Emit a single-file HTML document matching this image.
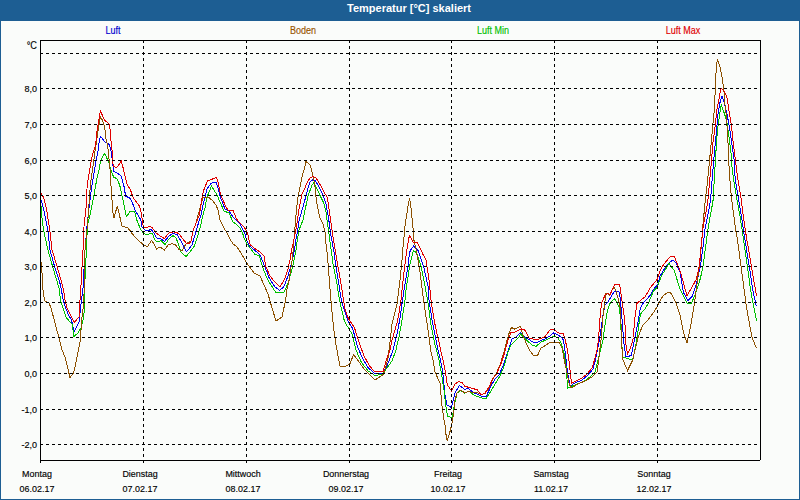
<!DOCTYPE html>
<html><head><meta charset="utf-8"><style>
html,body{margin:0;padding:0;width:800px;height:500px;overflow:hidden;background:#1d5e93;font-family:"Liberation Sans",sans-serif;}
#p{position:absolute;left:1px;top:21px;width:798px;height:478px;background:#fafcfa;}
div{white-space:nowrap;line-height:12px;}
svg{position:absolute;left:0;top:0;}
</style></head><body>
<div id="p"></div>
<svg width="800" height="500" viewBox="0 0 800 500" shape-rendering="crispEdges">
<polyline points="40,197 41,200 42.5,205 43.5,209 44.5,213 45.5,218 46.5,224 47.5,228 50,250 55,268 60.5,285 63,299 65,306 68,314 71.5,320 74,332 76.5,327 79,322 80,313 81.5,300 83,288 85,250 87,226 90,200 92,185 94,173 96,161 98,151.4 98.8,145 99.6,139.4 100.4,136.2 102.4,138.6 104.8,141.8 107.6,143.4 109.6,145 110.8,149.8 112.4,161 113.6,171.4 118.4,173.8 121.2,176.2 122.5,181 124,186.4 125.6,196 128,197.2 130.4,198.4 132.8,204 135.2,210.4 137.6,214.4 140.8,220 142,227 145,230 148,230.5 151,229.5 154,233 156.5,238 161,239 164.5,241.5 169,236 173,233.5 177,234.5 181,241 184,247 186.5,251.5 189,249 192,245 194,238 196.5,230 199,221 201,215 203,205 205,197 207,189 210.5,184 213,182.5 216,182 218,188 220,196 221.5,200 225,209 229,211 233,217 236,220 240,224 243,230 245,234 246.6,240 249.6,246 256.8,252 260.4,255.6 265.2,267.6 269.4,278.4 274.8,286.8 279.6,290.4 283.8,286.8 288,276 291.6,262.8 294.5,250 295.5,242 297.5,231 299.5,218 301,214 306,196 308,188 310,182 312.5,180 315,180.5 318,185 322.8,194.6 326,204.2 328.4,217 330.8,234.6 334,252.2 336,266.7 338.6,282.3 341.2,299.2 344.5,310.8 347.5,319.8 352.8,329 357.6,346.8 362.4,358 368,367.6 374.4,373.2 383,373.2 387,366 392,353 393,350 395,342 397.5,332 400,318 402.5,300 404,290 408,266 409.5,252.5 411,249.5 413.5,246 416,248.5 418,250.5 420,256 424,268 428,286 429,300 430.5,310 432,320 434,330 436.5,342 438,350 440.5,360 442.5,370 443.5,380 445,395 447,405 451.5,407.5 455,393 459.5,385.5 465,389.5 468,388 473,392.5 477,394 481,396 486.5,396 491,386 495,379 499,375 503.5,365 508,351 512,339 516,337 520.5,332.5 523.5,336 528,339 533,342 537,342.5 541,340.5 545,339 550,336 553.5,333 557,334.5 561,337 563.5,340 565.5,355 567.5,372 570,386 575,383 582,380 588,375 593,369 595.5,360 597.5,350 599.5,340 603,315 605,305 608,302 611,297 614,292 616,291 619,291.5 620.5,300 621.5,313 622.5,325 623.7,342 626,357 631.2,355.5 635,337.5 638.5,320 639.5,312 641,307 644,302 647,299 650.5,295 653,290 656,286.5 658,284 660,276 665,268 669,263 673,260 676,263 680,272 683.4,292.4 688,300.5 692.4,296 697,281.6 700.6,265 703.2,245.5 705.1,228.6 708.5,211.7 710.5,200 713.8,159 715.3,142.5 716.8,129 717.5,117 719.7,103.5 722,96 724,102 727,114 729.5,127.5 731.7,142.5 734,159 735.2,179.2 738.4,198.4 741.6,217.6 744,233.6 745,240 749.6,268.6 752.9,290.6 756.2,306" fill="none" stroke="#0000f0" stroke-width="1" stroke-linejoin="miter"/>
<polyline points="40,205 41.5,207 41.5,214 42.5,222 43.5,230 48,250 53,268 59,288 60.5,300 63,308 66,317 69,321 72,324 74,336.5 78,333 81,328 83,320 84.5,310 85,280 87.5,225 90,215 94,195 97.5,175 98.4,173 100.8,160.2 104.4,153.4 106.4,157 108.8,162.6 111.2,170.6 113.6,177 116.8,178.6 118.4,181.8 120,186.4 122.4,197.6 124.4,206.4 126.4,216.8 129.6,212 134.4,211.2 135.6,215.2 136.8,220 140,228 143,233 146,234.5 149,234 152,233 155,240 157,242 161,240.5 165,244.5 169,239 173,235.5 176,238 178,243 181,252 183.5,254.5 186,256.5 190,252 194.5,246 197,238 200,228 203,215 205,208 207,197 211.5,186 214,190 217,195 220,202 224,211 229,213 233,222 236,224 240,228 242.5,233 244.8,240 248.4,246 255,254.4 259.2,255.6 262.8,267.6 267.6,279.6 276,292.8 283.8,292.8 288,283.2 292.8,266.4 296,250 297,242 299,230 303,220 308,196 312,185 314,182.5 317,189 319.6,194.6 323.6,202.6 326,212.2 328.4,229.8 330.8,247.4 333.2,265 336.7,282.3 339.3,299.2 341.9,310.8 344.5,321.5 352,334 356,350 361.6,362.8 368,370.8 375.2,375.6 382.4,374 392,361 396,350 396.5,347 399,337 402,320 405,300 406,290 410,264 412.5,254 413.5,250.5 415,251.5 417,254.5 421,266 425,286 427.5,300 429,310 431,325 433,335 435,345 436.5,350 439,360 442,377 444,390 446,407 447.5,416 451,417.5 452,418 455,402 457,393 460.5,390.5 464.5,393 469,391 473,394.5 477,396.5 482,398 486.5,398 491,391 495,384 500,376 504.5,365 508,352 511,345 515,341 519,337 520.5,334 523,336.5 526.5,340 532,345 536,346.5 541,342 546,340 551,337.5 554,336 558,338 561,343 564.5,355 566.5,370 567.5,388 575,385 584,381.5 590,377 595,372 598,360 601,348 603,340 605,325 607,313 609.5,304 612,301 614.5,298.5 617,303 619,307 620.5,317 621,330 621.5,342 623,357 629,359 632.7,360 636.5,342 639.5,320 640.5,314 645,309 648.5,303 651,297 653.5,291 657,287.5 659.5,281 662,275 669,263.6 674.4,270.8 679.8,288.8 687,303.2 691.5,303.2 696,292.4 700.5,278 703.2,265 705.8,245.5 708.4,226 711.8,207.8 713.1,200 715.3,162 716.7,139.5 718,126 719.7,114 721.2,105 723.5,111 726.5,120 728.7,135 731,153 731.7,165 733.6,179.2 736.8,198.4 740,216 742.4,232 743.6,240 747.4,266.4 750.7,290.6 754,308.2 756.6,321.4" fill="none" stroke="#00c000" stroke-width="1" stroke-linejoin="miter"/>
<polyline points="40.5,258 41.5,265 42.5,280 43,290 44,297 45,301 49,303 51,308 55,323 59,338 62,350 65,357 70,377.5 73.75,372.5 77.5,355 80.5,339 81.5,321 83.5,305 84,294 85,250 88,218 90.4,185 92,173 93.6,162.6 95.2,149.8 96,145 98,131.4 99.2,123.4 100.4,117 102.4,120.2 104,125 105.2,131.4 106,138.6 107.6,145 108.8,157 110,169 110.4,180 111.2,188 112,200 112.8,212 114,217.6 115.6,212 117.2,206.4 118.8,212 120.4,219.2 122,226 128,228 134,236 140,242 144,245 147.5,246.5 151.5,240.5 154,244 156.5,249 160,247 164.5,250 168,245 172,243.5 175.5,245 179,249.5 182,251 184,247 186,244 189,242 191,241 193,231 196,223 200,208 203,198 208,197 212,200 216,205 218,210 220,220 224,228 227,233 230,239 233,244 236,246 238.5,249 244,258 246,262 254,273 260,276 268,294 272,308 276,321 282,317 285.6,300 286.8,290.4 289.2,279.6 291,267.6 292.8,255.6 293.5,245 295,227 296,215 297.5,200 299.5,190 302,177 304.5,168 306,161.5 308,163 310.5,165.5 312,172 313.5,178 314.8,185 316.4,201 319.6,217 322.8,223.4 325.2,233 326,244.2 327.6,257 328.9,274.5 330.2,291.4 331.5,307 332.8,320 334.4,334 336,345 340,366 344.8,366.8 349.6,364.4 353.6,354.8 358.4,361 363,367.6 369.6,374.8 375,380 384,374 388,358 390.4,338.8 392,324 397,304 400,280 402.5,255 403,247 404,237 404.5,230 405.5,223 406.5,216 407.5,210 408.5,203 409.5,198.5 410.5,203 411.5,213 412.5,223 413.5,233 414,240.5 415,245 416,249 416.5,252.5 418,260 420,272 423.5,300 425,310 426.5,320 428,330 429.5,340 430.5,350 433,360 435,372 438.5,380 440,383 442,406 443.75,418.75 445,425 445.6,432 446.6,438 447.2,441 447.8,438.75 449.4,433.75 450.6,429.4 451.6,425 452.5,420 453.4,415 454,410 455,400 457,393 460,390 463.5,392 465,393 469,391 473,393 477,392.5 481,394.5 485,393.5 489,388 493,379 496,374 500,365 504,352 507,340 509.5,332 511.5,327.5 514.5,329 517,328 520.5,326.5 523,335 526,343 530,351 533.5,355.5 537.5,355.5 541,348 544.5,346 549,343 552,342 559,342 562,348 564.5,361 567,373 569,383 571,388 580,383 585,381 592,377 597,372 598.5,362 600,348 601,340 603,316 604.5,305 606,293 607.5,293 609.5,295 611.5,291 614,287 616,291 618,298 619.5,304 620.5,310 621.5,337.5 622.2,352.5 623,360 627.5,370.5 632.7,360 638,337.5 642.5,325.5 648,320 654,312 658,305 661,299 664,295 668,292.5 670.5,292.5 675.3,301.4 679.8,314 683.4,332 687,342.9 690.6,326.7 694.2,305 697.8,278 700,261 701.9,239 703.2,222 705.3,200 707.2,184 709.6,160 711.5,139.5 713,123 714.5,108 715.2,90 715.5,80 716.5,66 717.5,59 718.5,63 720,67 721.5,74 722.5,80 723.5,88 724.5,95 725,105 726.5,117 727.2,129 728,142.5 728.7,160.5 729.6,176 731.2,195.2 733.6,214.4 736,232 737.5,240 741.9,273 746.3,306 751.8,336.8 756.2,347.8" fill="none" stroke="#8c5000" stroke-width="1" stroke-linejoin="miter"/>
<polyline points="40,193 41,193.5 43,196.5 44.5,200 45.5,205 46.5,209 47.5,215 48.5,222 49.5,228 52,250 57,266 61,280 63.5,290 65,300 67,308 70,314 74.5,322.5 77,319 79.5,316.5 79.5,305 80.5,295 81.5,275 83,250 83,236 86,208 87.2,185 88.8,175.4 90.8,163.4 92.4,155.4 94,149.8 95.6,145 96.4,137 97.2,129.8 98.8,121 99.6,115.4 100.4,111.4 101.6,113.8 103.2,117 104.8,120.2 106.4,121.8 108.8,123.4 110,129 110.8,139.4 111.6,145 112.4,154.6 113.2,166.6 116.8,167.4 119.2,164.2 121.2,161 123.2,168.2 125.2,177 127.2,184.8 130.4,189.6 132,194.4 133.6,198.4 136,201.6 139.2,205.6 140.8,210.4 142,218.4 142,223 144,227 147,227.5 150,226 152.5,228 156,233 160,236 164.5,238.5 167,235 169.5,232.5 173.5,232 177,232.5 180,235 183,239 186,243 189,244 191,241 193,231 196,223 199.5,215 201.5,200 203.5,191 204.5,188 207.5,181 210,180 216.5,177.5 218,182 219.5,190 222,198 223,200 225,205 228,210 233,210 236.5,219 240,223 244,227 246.5,231 248,235 249,240 250.2,244.8 255.6,249 259.8,252 264,255.6 265.8,266.4 270,276 274.8,282 280.2,286.8 285,278.4 288,268.8 290.4,258 291.5,250 293.5,242 295.5,232 297.5,220 299.5,206 302,194 304,190 307,183 310,178 313,176.5 316,178 320.4,185 324.4,193 326.8,196.2 328.4,204.2 330.8,221.8 333.2,237.8 335.6,252.2 338,266.7 340.6,281 343.2,297.9 345.1,309.5 348.6,319 354.4,327.6 359,342 364,356 369.6,366 374.4,371.6 383,371.6 387,358 390,350 392,340 395,330 397,323 399,313 401,300 402,290 405,264 406.5,252.5 407.5,246.5 408.5,239.5 409.5,235.5 410.5,236.5 412.5,241.5 413.5,242.5 417,242.5 418.5,245 420.5,249 423,254.5 426,260 429,280 431,300 432.5,310 434.5,322 437,334 439,342 440.5,350 443,360 445.5,372 446.5,380 447.5,385 451.5,391 455,384 459,381.5 462.5,383 464.5,386 469,387.5 473,388.5 477.5,390 481,395 485,393 489,387 493,378 496,375 500.5,365 504.5,353 508,340 511,332 514.5,332.5 518,330.5 521.5,329 524.5,329.5 529,338 533,339 537,339.5 541,338.5 545.5,336 550,330 554,329 557,332 560,333.5 563,333.5 565,339 567.5,350 569.5,365 571.5,383 576,381 582,378 587,374 592,368 594.5,360 597,350 598.5,340 600,318 601.5,303 603,300 605,295 608,293.5 610,295 612,290 613.5,287 614.5,284.5 619.5,284.5 620.5,289 621.5,298 623,308 624,315 625,325 626,345 627.5,354 630.5,348 633.5,337.5 634.5,320 636,310 636.5,304 642,299 645,297 648,292 649.5,288.5 655,282 657,279.5 659,274 660.5,270 662.5,266 666,261.5 671,256 674.5,257 677.5,264.5 680.5,272 687,296 696,279.8 698.7,269 699.3,265 701.2,245.5 703.2,226 705.9,213 707.9,200 711.5,160.5 713,142.5 715.3,124.5 716.7,111 719,99 720.5,90 721.5,88.5 724,91 726,95 727.5,100 729.5,114 731.7,127.5 733.2,142.5 735.5,160.5 737.6,177.6 740.8,196.8 743.2,216 745.6,232 746.9,240 750.7,262 754,281.8 756.6,296" fill="none" stroke="#e00000" stroke-width="1" stroke-linejoin="miter"/>
<line x1="40" y1="53.5" x2="758" y2="53.5" stroke="#000" stroke-dasharray="3 3"/>
<line x1="40" y1="88.5" x2="758" y2="88.5" stroke="#000" stroke-dasharray="3 3"/>
<line x1="40" y1="124.5" x2="758" y2="124.5" stroke="#000" stroke-dasharray="3 3"/>
<line x1="40" y1="160.5" x2="758" y2="160.5" stroke="#000" stroke-dasharray="3 3"/>
<line x1="40" y1="195.5" x2="758" y2="195.5" stroke="#000" stroke-dasharray="3 3"/>
<line x1="40" y1="231.5" x2="758" y2="231.5" stroke="#000" stroke-dasharray="3 3"/>
<line x1="40" y1="266.5" x2="758" y2="266.5" stroke="#000" stroke-dasharray="3 3"/>
<line x1="40" y1="302.5" x2="758" y2="302.5" stroke="#000" stroke-dasharray="3 3"/>
<line x1="40" y1="337.5" x2="758" y2="337.5" stroke="#000" stroke-dasharray="3 3"/>
<line x1="40" y1="373.5" x2="758" y2="373.5" stroke="#000" stroke-dasharray="3 3"/>
<line x1="40" y1="409.5" x2="758" y2="409.5" stroke="#000" stroke-dasharray="3 3"/>
<line x1="40" y1="444.5" x2="758" y2="444.5" stroke="#000" stroke-dasharray="3 3"/>
<line x1="143.5" y1="40" x2="143.5" y2="460" stroke="#000" stroke-dasharray="3 3"/>
<line x1="143.5" y1="460" x2="143.5" y2="463" stroke="#000"/>
<line x1="246.5" y1="40" x2="246.5" y2="460" stroke="#000" stroke-dasharray="3 3"/>
<line x1="246.5" y1="460" x2="246.5" y2="463" stroke="#000"/>
<line x1="349.5" y1="40" x2="349.5" y2="460" stroke="#000" stroke-dasharray="3 3"/>
<line x1="349.5" y1="460" x2="349.5" y2="463" stroke="#000"/>
<line x1="451.5" y1="40" x2="451.5" y2="460" stroke="#000" stroke-dasharray="3 3"/>
<line x1="451.5" y1="460" x2="451.5" y2="463" stroke="#000"/>
<line x1="554.5" y1="40" x2="554.5" y2="460" stroke="#000" stroke-dasharray="3 3"/>
<line x1="554.5" y1="460" x2="554.5" y2="463" stroke="#000"/>
<line x1="657.5" y1="40" x2="657.5" y2="460" stroke="#000" stroke-dasharray="3 3"/>
<line x1="657.5" y1="460" x2="657.5" y2="463" stroke="#000"/>
<path d="M40.5 463V40.5H760.5V460M40 460.5H760" fill="none" stroke="#000"/>
</svg>
<div style="position:absolute;left:308.5px;top:3px;width:200px;text-align:center;color:#fff;font-size:10px;font-weight:bold;transform:scaleX(1.1);transform-origin:100px 0;">Temperatur [°C] skaliert</div>
<div style="position:absolute;left:13.400000000000006px;top:25px;width:200px;text-align:center;color:#0000d0;font-size:10px;font-weight:normal;transform:scaleX(0.9);transform-origin:100px 0;-webkit-text-stroke:0.15px currentColor;">Luft</div>
<div style="position:absolute;left:203px;top:25px;width:200px;text-align:center;color:#985400;font-size:10px;font-weight:normal;transform:scaleX(0.9);transform-origin:100px 0;-webkit-text-stroke:0.15px currentColor;">Boden</div>
<div style="position:absolute;left:392.5px;top:25px;width:200px;text-align:center;color:#00c000;font-size:10px;font-weight:normal;transform:scaleX(0.9);transform-origin:100px 0;-webkit-text-stroke:0.15px currentColor;">Luft Min</div>
<div style="position:absolute;left:582.7px;top:25px;width:200px;text-align:center;color:#e00000;font-size:10px;font-weight:normal;transform:scaleX(0.9);transform-origin:100px 0;-webkit-text-stroke:0.15px currentColor;">Luft Max</div>
<div style="position:absolute;left:-63px;top:39.5px;width:100px;text-align:right;color:#000;font-size:10px;font-weight:normal;transform:scaleX(0.92);transform-origin:100px 0;-webkit-text-stroke:0.15px currentColor;">°C</div>
<div style="position:absolute;left:-63.4px;top:82.5px;width:100px;text-align:right;color:#000;font-size:9.5px;font-weight:normal;transform:scaleX(0.95);transform-origin:100px 0;-webkit-text-stroke:0.15px currentColor;">8,0</div>
<div style="position:absolute;left:-63.4px;top:118.5px;width:100px;text-align:right;color:#000;font-size:9.5px;font-weight:normal;transform:scaleX(0.95);transform-origin:100px 0;-webkit-text-stroke:0.15px currentColor;">7,0</div>
<div style="position:absolute;left:-63.4px;top:154.5px;width:100px;text-align:right;color:#000;font-size:9.5px;font-weight:normal;transform:scaleX(0.95);transform-origin:100px 0;-webkit-text-stroke:0.15px currentColor;">6,0</div>
<div style="position:absolute;left:-63.4px;top:189.5px;width:100px;text-align:right;color:#000;font-size:9.5px;font-weight:normal;transform:scaleX(0.95);transform-origin:100px 0;-webkit-text-stroke:0.15px currentColor;">5,0</div>
<div style="position:absolute;left:-63.4px;top:225.5px;width:100px;text-align:right;color:#000;font-size:9.5px;font-weight:normal;transform:scaleX(0.95);transform-origin:100px 0;-webkit-text-stroke:0.15px currentColor;">4,0</div>
<div style="position:absolute;left:-63.4px;top:260.5px;width:100px;text-align:right;color:#000;font-size:9.5px;font-weight:normal;transform:scaleX(0.95);transform-origin:100px 0;-webkit-text-stroke:0.15px currentColor;">3,0</div>
<div style="position:absolute;left:-63.4px;top:296.5px;width:100px;text-align:right;color:#000;font-size:9.5px;font-weight:normal;transform:scaleX(0.95);transform-origin:100px 0;-webkit-text-stroke:0.15px currentColor;">2,0</div>
<div style="position:absolute;left:-63.4px;top:331.5px;width:100px;text-align:right;color:#000;font-size:9.5px;font-weight:normal;transform:scaleX(0.95);transform-origin:100px 0;-webkit-text-stroke:0.15px currentColor;">1,0</div>
<div style="position:absolute;left:-63.4px;top:367.5px;width:100px;text-align:right;color:#000;font-size:9.5px;font-weight:normal;transform:scaleX(0.95);transform-origin:100px 0;-webkit-text-stroke:0.15px currentColor;">0,0</div>
<div style="position:absolute;left:-63.4px;top:403.5px;width:100px;text-align:right;color:#000;font-size:9.5px;font-weight:normal;transform:scaleX(0.95);transform-origin:100px 0;-webkit-text-stroke:0.15px currentColor;">-1,0</div>
<div style="position:absolute;left:-63.4px;top:438.5px;width:100px;text-align:right;color:#000;font-size:9.5px;font-weight:normal;transform:scaleX(0.95);transform-origin:100px 0;-webkit-text-stroke:0.15px currentColor;">-2,0</div>
<div style="position:absolute;left:-63px;top:467.5px;width:200px;text-align:center;color:#000;font-size:9.5px;font-weight:normal;transform:scaleX(0.94);transform-origin:100px 0;-webkit-text-stroke:0.15px currentColor;">Montag</div>
<div style="position:absolute;left:-63px;top:482.5px;width:200px;text-align:center;color:#000;font-size:9.5px;font-weight:normal;transform:scaleX(0.94);transform-origin:100px 0;-webkit-text-stroke:0.15px currentColor;">06.02.17</div>
<div style="position:absolute;left:40px;top:467.5px;width:200px;text-align:center;color:#000;font-size:9.5px;font-weight:normal;transform:scaleX(0.94);transform-origin:100px 0;-webkit-text-stroke:0.15px currentColor;">Dienstag</div>
<div style="position:absolute;left:40px;top:482.5px;width:200px;text-align:center;color:#000;font-size:9.5px;font-weight:normal;transform:scaleX(0.94);transform-origin:100px 0;-webkit-text-stroke:0.15px currentColor;">07.02.17</div>
<div style="position:absolute;left:143px;top:467.5px;width:200px;text-align:center;color:#000;font-size:9.5px;font-weight:normal;transform:scaleX(0.94);transform-origin:100px 0;-webkit-text-stroke:0.15px currentColor;">Mittwoch</div>
<div style="position:absolute;left:143px;top:482.5px;width:200px;text-align:center;color:#000;font-size:9.5px;font-weight:normal;transform:scaleX(0.94);transform-origin:100px 0;-webkit-text-stroke:0.15px currentColor;">08.02.17</div>
<div style="position:absolute;left:246px;top:467.5px;width:200px;text-align:center;color:#000;font-size:9.5px;font-weight:normal;transform:scaleX(0.94);transform-origin:100px 0;-webkit-text-stroke:0.15px currentColor;">Donnerstag</div>
<div style="position:absolute;left:246px;top:482.5px;width:200px;text-align:center;color:#000;font-size:9.5px;font-weight:normal;transform:scaleX(0.94);transform-origin:100px 0;-webkit-text-stroke:0.15px currentColor;">09.02.17</div>
<div style="position:absolute;left:348px;top:467.5px;width:200px;text-align:center;color:#000;font-size:9.5px;font-weight:normal;transform:scaleX(0.94);transform-origin:100px 0;-webkit-text-stroke:0.15px currentColor;">Freitag</div>
<div style="position:absolute;left:348px;top:482.5px;width:200px;text-align:center;color:#000;font-size:9.5px;font-weight:normal;transform:scaleX(0.94);transform-origin:100px 0;-webkit-text-stroke:0.15px currentColor;">10.02.17</div>
<div style="position:absolute;left:451px;top:467.5px;width:200px;text-align:center;color:#000;font-size:9.5px;font-weight:normal;transform:scaleX(0.94);transform-origin:100px 0;-webkit-text-stroke:0.15px currentColor;">Samstag</div>
<div style="position:absolute;left:451px;top:482.5px;width:200px;text-align:center;color:#000;font-size:9.5px;font-weight:normal;transform:scaleX(0.94);transform-origin:100px 0;-webkit-text-stroke:0.15px currentColor;">11.02.17</div>
<div style="position:absolute;left:554px;top:467.5px;width:200px;text-align:center;color:#000;font-size:9.5px;font-weight:normal;transform:scaleX(0.94);transform-origin:100px 0;-webkit-text-stroke:0.15px currentColor;">Sonntag</div>
<div style="position:absolute;left:554px;top:482.5px;width:200px;text-align:center;color:#000;font-size:9.5px;font-weight:normal;transform:scaleX(0.94);transform-origin:100px 0;-webkit-text-stroke:0.15px currentColor;">12.02.17</div>
</body></html>
